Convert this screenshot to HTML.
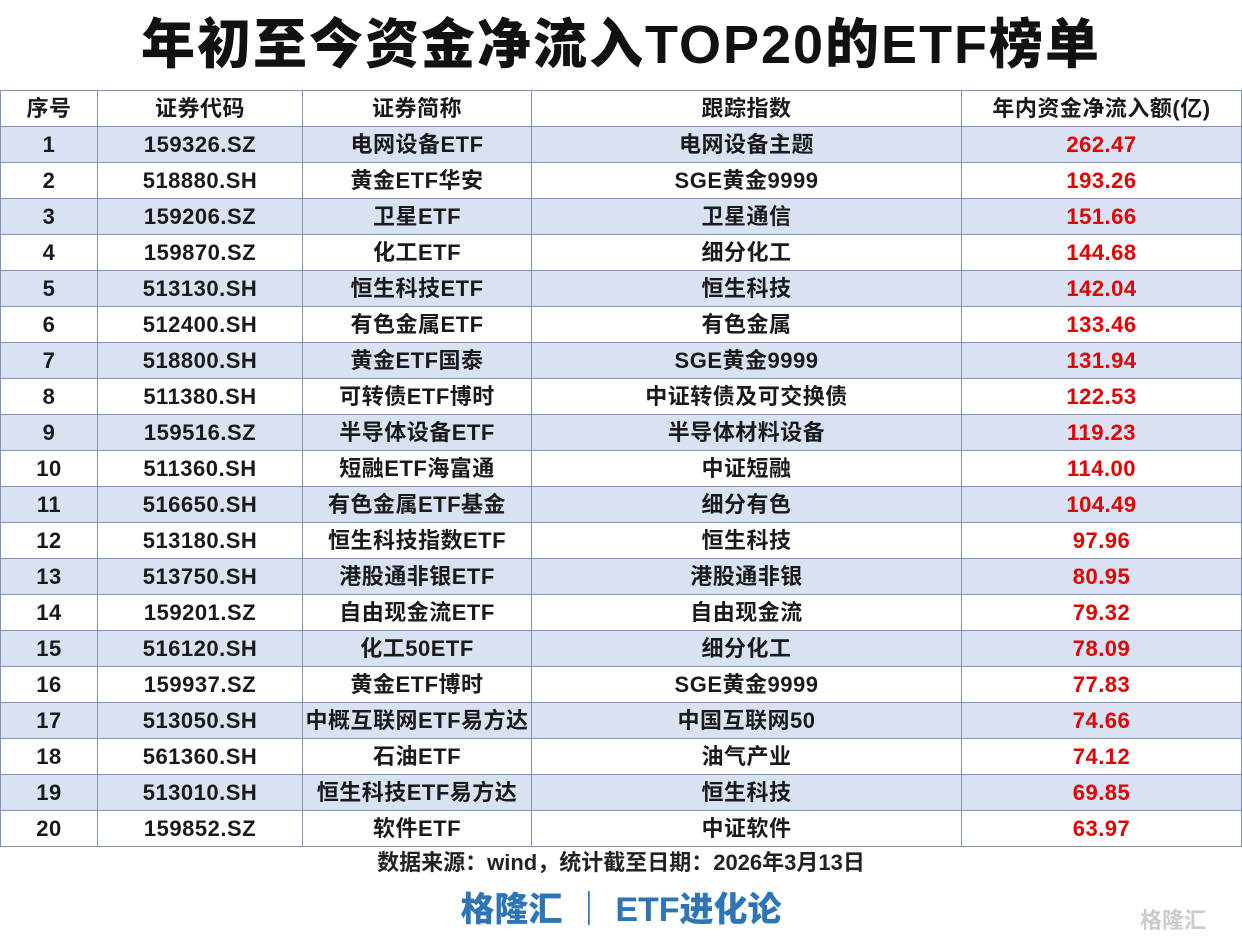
<!DOCTYPE html>
<html><head><meta charset="utf-8"><style>
body{margin:0;width:1242px;height:941px;background:#fff;font-family:"Liberation Sans","Noto Sans CJK SC",sans-serif;position:relative;overflow:hidden}
.title{position:absolute;top:10px;left:0;width:1242px;text-align:center;font-size:54px;font-weight:900;color:#111;line-height:70px;letter-spacing:2px}
table{position:absolute;top:90px;left:0;border-collapse:collapse;width:1241px;table-layout:fixed}
td{border:1px solid #7f93b5;height:35px;padding:0;text-align:center;font-size:22px;font-weight:bold;color:#1a1a1a;line-height:35px;white-space:nowrap;letter-spacing:0.5px}
tr.b td{background:#d9e2f3}
td.r{color:#e00000}
.src{position:absolute;top:848px;left:0;width:1242px;text-align:center;font-size:22px;font-weight:bold;color:#222;line-height:30px}
.brand{position:absolute;top:888px;left:0;width:1242px;text-align:center;font-size:34px;font-weight:900;color:#2e75b6;line-height:44px}
.wm{position:absolute;left:1140px;top:903px;font-size:22px;color:#ccc;font-weight:bold}
</style></head><body>
<div class="title">年初至今资金净流入TOP20的ETF榜单</div>
<table>
<colgroup><col style="width:97px"><col style="width:205px"><col style="width:229px"><col style="width:430px"><col style="width:280px"></colgroup>
<tr><td>序号</td><td>证券代码</td><td>证券简称</td><td>跟踪指数</td><td>年内资金净流入额(亿)</td></tr>
<tr class="b"><td>1</td><td>159326.SZ</td><td>电网设备ETF</td><td>电网设备主题</td><td class="r">262.47</td></tr>
<tr><td>2</td><td>518880.SH</td><td>黄金ETF华安</td><td>SGE黄金9999</td><td class="r">193.26</td></tr>
<tr class="b"><td>3</td><td>159206.SZ</td><td>卫星ETF</td><td>卫星通信</td><td class="r">151.66</td></tr>
<tr><td>4</td><td>159870.SZ</td><td>化工ETF</td><td>细分化工</td><td class="r">144.68</td></tr>
<tr class="b"><td>5</td><td>513130.SH</td><td>恒生科技ETF</td><td>恒生科技</td><td class="r">142.04</td></tr>
<tr><td>6</td><td>512400.SH</td><td>有色金属ETF</td><td>有色金属</td><td class="r">133.46</td></tr>
<tr class="b"><td>7</td><td>518800.SH</td><td>黄金ETF国泰</td><td>SGE黄金9999</td><td class="r">131.94</td></tr>
<tr><td>8</td><td>511380.SH</td><td>可转债ETF博时</td><td>中证转债及可交换债</td><td class="r">122.53</td></tr>
<tr class="b"><td>9</td><td>159516.SZ</td><td>半导体设备ETF</td><td>半导体材料设备</td><td class="r">119.23</td></tr>
<tr><td>10</td><td>511360.SH</td><td>短融ETF海富通</td><td>中证短融</td><td class="r">114.00</td></tr>
<tr class="b"><td>11</td><td>516650.SH</td><td>有色金属ETF基金</td><td>细分有色</td><td class="r">104.49</td></tr>
<tr><td>12</td><td>513180.SH</td><td>恒生科技指数ETF</td><td>恒生科技</td><td class="r">97.96</td></tr>
<tr class="b"><td>13</td><td>513750.SH</td><td>港股通非银ETF</td><td>港股通非银</td><td class="r">80.95</td></tr>
<tr><td>14</td><td>159201.SZ</td><td>自由现金流ETF</td><td>自由现金流</td><td class="r">79.32</td></tr>
<tr class="b"><td>15</td><td>516120.SH</td><td>化工50ETF</td><td>细分化工</td><td class="r">78.09</td></tr>
<tr><td>16</td><td>159937.SZ</td><td>黄金ETF博时</td><td>SGE黄金9999</td><td class="r">77.83</td></tr>
<tr class="b"><td>17</td><td>513050.SH</td><td>中概互联网ETF易方达</td><td>中国互联网50</td><td class="r">74.66</td></tr>
<tr><td>18</td><td>561360.SH</td><td>石油ETF</td><td>油气产业</td><td class="r">74.12</td></tr>
<tr class="b"><td>19</td><td>513010.SH</td><td>恒生科技ETF易方达</td><td>恒生科技</td><td class="r">69.85</td></tr>
<tr><td>20</td><td>159852.SZ</td><td>软件ETF</td><td>中证软件</td><td class="r">63.97</td></tr>
</table>
<div class="src">数据来源：wind，统计截至日期：2026年3月13日</div>
<div class="brand">格隆汇 ｜ ETF进化论</div>
<div class="wm">格隆汇</div>
</body></html>
